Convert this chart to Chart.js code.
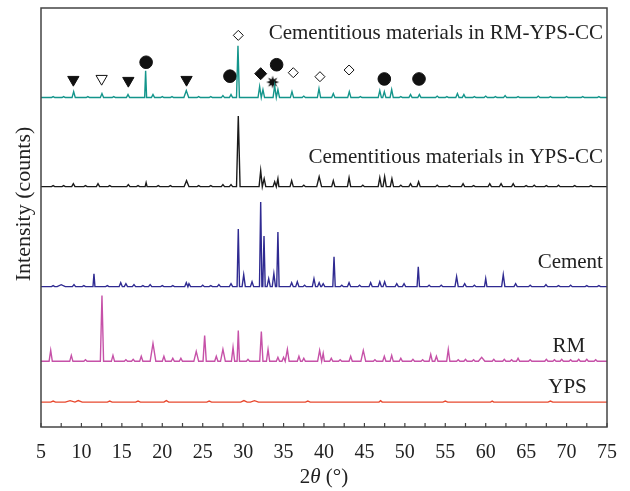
<!DOCTYPE html>
<html>
<head>
<meta charset="utf-8">
<script src="https://cdn.jsdelivr.net/npm/chart.js@4/dist/chart.umd.min.js"></script>
<style>
  html, body { margin: 0; background: #fff; }
</style>
</head>
<body>
<canvas id="xrd" width="630" height="491"></canvas>
<script>
// x axis (2 theta, degrees)
const xMin = 5;
const xMax = 75;
const xTickLabels = [5, 10, 15, 20, 25, 30, 35, 40, 45, 50, 55, 60, 65, 70, 75];

// baseline of each pattern (stacked offset, arbitrary counts)
const baseYPS = 25;
const baseRM = 66;
const baseCement = 141;
const baseYPSCC = 241.5;
const baseRMYPSCC = 331;

// peaks: [2theta, height, half width (optional)]
const peaksYPS = [[6.5, 1, 0.3], [8.6, 1.5, 0.6], [9.6, 1.5, 0.5], [13.5, 1, 0.3], [17, 1, 0.3], [20.5, 1.5, 0.3], [25.8, 1, 0.3], [30.1, 1.5, 0.4], [31.4, 1.5, 0.5], [38, 1, 0.3], [47, 1.5, 0.2], [55, 1, 0.3], [60.8, 1, 0.2], [68, 1, 0.3]];
const peaksRM = [[6.2, 11], [8.75, 6], [10.5, 1.5], [12.54, 66], [13.9, 6], [15.5, 1.5], [16.4, 2], [17.4, 5], [18.85, 18, 0.35], [20.2, 5], [21.3, 3], [22.3, 3], [24.2, 10, 0.3], [25.24, 26], [26.68, 5], [27.5, 12, 0.3], [28.75, 14], [29.4, 31, 0.15], [30.6, 2], [32.25, 30], [33.08, 12], [34.3, 4], [35.0, 4], [35.47, 12, 0.22], [36.9, 5], [37.5, 3], [39.46, 11, 0.25], [39.9, 8, 0.15], [40.9, 3], [42, 1.5], [43.3, 5], [44.86, 11, 0.3], [46.3, 1.5], [47.46, 5], [48.37, 6], [49.5, 3], [51, 2], [52.2, 1.5], [53.2, 7], [53.9, 5], [55.37, 12], [56.6, 1.5], [57.5, 2], [58.5, 1.5], [59.5, 4, 0.4], [61, 2], [62.3, 2], [63.2, 1.5], [64, 3], [65.5, 1.5], [67.5, 2], [68.5, 1.5], [69.4, 2], [70.5, 1.5], [71.5, 2], [72.5, 2], [73.6, 1.5]];
const peaksCement = [[6.5, 1], [7.5, 2, 0.5], [9.08, 2], [10.3, 1], [11.55, 13, 0.12], [13.2, 1], [14.86, 4], [15.5, 3], [16.5, 2], [17.6, 1], [18.5, 2], [20, 1], [21.3, 1], [22.97, 4], [23.3, 3], [25, 1.5], [26, 1], [27, 2], [28.5, 3], [29.4, 58, 0.15], [30.07, 12], [31.1, 5], [32.17, 85, 0.15], [32.58, 51, 0.15], [33.16, 8], [33.8, 13], [34.3, 55, 0.15], [36.0, 4], [36.7, 5], [37.6, 1.5], [38.76, 8], [39.4, 4], [39.9, 3], [41.24, 30, 0.15], [42.2, 1.5], [43.1, 4], [44.4, 1.5], [45.77, 4], [46.9, 5], [47.5, 5], [49.0, 3], [49.9, 3], [51.66, 20, 0.15], [53, 1.5], [54.5, 1.5], [56.4, 10], [57.4, 3], [58.6, 1.5], [60.0, 8, 0.15], [62.17, 12], [63.7, 3], [65.5, 1.5], [67.45, 2], [69, 1], [70.5, 1.5], [72.5, 1], [74, 1]];
const peaksYPSCC = [[6.5, 1], [7.8, 1], [9.0, 3], [10.5, 1], [12.05, 3], [13.5, 1], [15.8, 2], [17, 1], [18.0, 4, 0.12], [19.5, 1], [21, 1], [23.0, 6, 0.3], [24.5, 1], [26, 1], [27.5, 2], [28.5, 2], [29.4, 71, 0.22], [32.17, 16], [32.6, 8], [33.9, 5], [34.3, 8, 0.12], [36.0, 6], [37.5, 1.5], [39.4, 10, 0.3], [41.15, 6], [43.1, 9], [44.8, 1.5], [46.9, 9], [47.5, 10], [48.4, 8], [49.5, 1.5], [50.7, 3], [51.7, 5], [54, 1.5], [55.5, 1], [57.2, 3], [58.5, 1], [60.5, 3], [61.9, 3], [63.4, 3], [65, 1], [66, 1.5], [67.5, 1], [69, 1.5], [71, 1], [73, 1]];
const peaksRMYPSCC = [[6.5, 1], [7.8, 1], [9.04, 6], [10.8, 1], [12.54, 4], [14, 1], [15.76, 3], [17.94, 27, 0.12], [18.85, 3], [20, 1], [21.2, 1], [22.97, 7, 0.3], [24.5, 1], [26, 1], [27.5, 2], [28.5, 3], [29.36, 52, 0.18], [32.04, 11], [32.45, 8], [33.9, 12], [34.3, 8], [36.04, 6], [37.5, 1.5], [39.38, 9], [41.15, 4], [43.13, 6], [44.5, 1], [46.9, 7], [47.46, 6], [48.37, 8], [49.5, 1], [50.7, 3], [51.8, 3], [54, 1.5], [55.2, 1], [56.5, 4], [57.3, 3], [58.6, 1], [60, 1.5], [61.2, 1], [62.4, 2], [64, 1], [66.5, 1.5], [68, 1], [70, 1], [72, 1], [74, 1]];

// phase markers: [2theta, y]
const markSolidDown = [[9.0, 349], [15.8, 348], [23.0, 349]];
const markOpenDown = [[12.5, 350]];
const markCircle = [[18.0, 366.5], [28.37, 352.5], [34.14, 364], [47.46, 349.7], [51.75, 349.7]];
const markSolidDiamond = [[32.17, 355]];
const markOpenDiamond = [[29.4, 393.5], [36.2, 356], [39.5, 352], [43.1, 358.7]];
const markStar = [[33.65, 346.5]];

// sample names: [text, right edge 2theta, baseline y]
const sampleLabels = [
  ["Cementitious materials in RM-YPS-CC", 74.5, 390],
  ["Cementitious materials in YPS-CC", 74.5, 265],
  ["Cement", 74.5, 160],
  ["RM", 72.3, 75],
  ["YPS", 72.5, 34]
];

function buildTrace(base, peaks) {
  const pts = [{ x: xMin, y: base }];
  peaks.forEach(p => {
    const w = p[2] || 0.2;
    pts.push({ x: p[0] - w, y: base }, { x: p[0], y: base + p[1] }, { x: p[0] + w, y: base });
  });
  pts.push({ x: xMax, y: base });
  return pts;
}

function toPoints(list) {
  return list.map(m => ({ x: m[0], y: m[1] }));
}

// 8 pointed star for the marker
const starCanvas = document.createElement("canvas");
starCanvas.width = 14;
starCanvas.height = 14;
(function () {
  const c = starCanvas.getContext("2d");
  c.fillStyle = "#111";
  c.beginPath();
  for (let i = 0; i < 16; i++) {
    const r = i % 2 === 0 ? 6.5 : 3;
    const a = (i * Math.PI) / 8 - Math.PI / 2;
    const px = 7 + r * Math.cos(a);
    const py = 7 + r * Math.sin(a);
    if (i === 0) c.moveTo(px, py); else c.lineTo(px, py);
  }
  c.closePath();
  c.fill();
})();

function traceSet(data, color) {
  return { data, borderColor: color, borderWidth: 1.4, pointRadius: 0, tension: 0, fill: false };
}

function markerSet(data, style, radius, fillColor, rotation) {
  return {
    data, showLine: false, pointStyle: style, pointRadius: radius,
    pointBackgroundColor: fillColor, pointBorderColor: "#111", pointBorderWidth: 1,
    pointRotation: rotation || 0
  };
}

const serif = "'Liberation Serif', 'DejaVu Serif', serif";

const framePlugin = {
  id: "frame",
  afterDraw(chart) {
    const ctx = chart.ctx;
    const a = chart.chartArea;
    const xs = chart.scales.x;
    ctx.save();
    ctx.strokeStyle = "#444";
    ctx.lineWidth = 1.5;
    ctx.strokeRect(a.left, a.top, a.right - a.left, a.bottom - a.top);
    // inward ticks every 2.5
    ctx.lineWidth = 1.2;
    for (let v = xMin; v <= xMax; v += 2.5) {
      const px = xs.getPixelForValue(v);
      ctx.beginPath();
      ctx.moveTo(px, a.bottom);
      ctx.lineTo(px, a.bottom - 4);
      ctx.stroke();
    }
    ctx.fillStyle = "#222";
    ctx.font = "20px " + serif;
    ctx.textAlign = "center";
    ctx.textBaseline = "alphabetic";
    xTickLabels.forEach(v => ctx.fillText(String(v), xs.getPixelForValue(v), 458));

    // x title: 2θ (°)
    const cx = (a.left + a.right) / 2;
    ctx.font = "21px " + serif;
    const w1 = ctx.measureText("2").width;
    ctx.font = "italic 21px " + serif;
    const w2 = ctx.measureText("θ").width;
    ctx.font = "21px " + serif;
    const w3 = ctx.measureText(" (°)").width;
    let sx = cx - (w1 + w2 + w3) / 2;
    ctx.textAlign = "left";
    ctx.fillText("2", sx, 483);
    ctx.font = "italic 21px " + serif;
    ctx.fillText("θ", sx + w1, 483);
    ctx.font = "21px " + serif;
    ctx.fillText(" (°)", sx + w1 + w2, 483);

    // y title
    ctx.save();
    ctx.font = "22px " + serif;
    ctx.translate(24, 204);
    ctx.rotate(-Math.PI / 2);
    ctx.textAlign = "center";
    ctx.textBaseline = "middle";
    ctx.fillText("Intensity (counts)", 0, 0);
    ctx.restore();

    // sample names
    const ys = chart.scales.y;
    ctx.font = "21px " + serif;
    ctx.textAlign = "right";
    ctx.textBaseline = "alphabetic";
    ctx.fillStyle = "#222";
    sampleLabels.forEach(l => ctx.fillText(l[0], xs.getPixelForValue(l[1]), ys.getPixelForValue(l[2])));
    ctx.restore();
  }
};

new Chart(document.getElementById("xrd").getContext("2d"), {
  type: "line",
  data: {
    datasets: [
      traceSet(buildTrace(baseYPS, peaksYPS), "#e8492f"),
      traceSet(buildTrace(baseRM, peaksRM), "#c651a8"),
      traceSet(buildTrace(baseCement, peaksCement), "#2f2a91"),
      traceSet(buildTrace(baseYPSCC, peaksYPSCC), "#1a1a1a"),
      traceSet(buildTrace(baseRMYPSCC, peaksRMYPSCC), "#13958b"),
      markerSet(toPoints(markSolidDown), "triangle", 6.5, "#111", 180),
      markerSet(toPoints(markOpenDown), "triangle", 6.5, "#fff", 180),
      markerSet(toPoints(markCircle), "circle", 6.3, "#111"),
      markerSet(toPoints(markSolidDiamond), "rectRot", 6, "#111"),
      markerSet(toPoints(markOpenDiamond), "rectRot", 5, "#fff"),
      markerSet(toPoints(markStar), starCanvas, 7, "#111")
    ]
  },
  options: {
    responsive: false,
    animation: false,
    layout: { padding: { left: 41, right: 23, top: 6, bottom: 64 } },
    plugins: { legend: { display: false }, tooltip: { enabled: false } },
    scales: {
      x: { type: "linear", min: xMin, max: xMax, display: false },
      y: { type: "linear", min: 0, max: 421, display: false }
    }
  },
  plugins: [framePlugin]
});
</script>
</body>
</html>
